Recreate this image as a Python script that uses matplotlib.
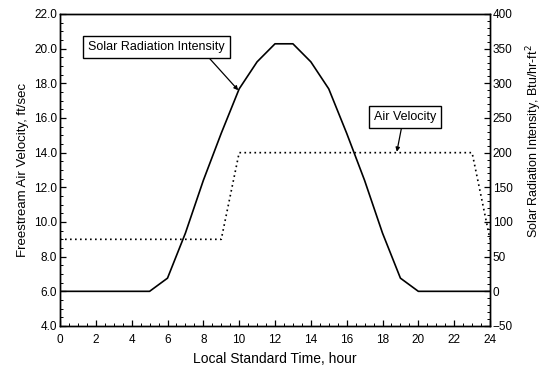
import numpy as np
import matplotlib
matplotlib.use('Agg')
import matplotlib.pyplot as plt
from matplotlib.ticker import MultipleLocator, FormatStrFormatter

plt.rcParams['font.family'] = ['Liberation Sans', 'DejaVu Sans']

# hourly values
hours = list(range(0, 25))
air_velocity = [9.0, 9.0, 9.0, 9.0, 9.0, 9.0, 9.0, 9.0, 9.0, 9.0,
                14.0, 14.0, 14.0, 14.0, 14.0, 14.0, 14.0, 14.0, 14.0, 14.0,
                14.0, 14.0, 14.0, 14.0, 9.0]
solar = [0, 0, 0, 0, 0, 0, 19, 84, 160, 228, 292, 331, 357, 357,
         331, 292, 228, 160, 84, 19, 0, 0, 0, 0, 0]

fig = plt.figure(figsize=(5.43, 3.71), dpi=100)
ax = fig.add_axes([0.1105, 0.1213, 0.7919, 0.841])
ax2 = ax.twinx()

ax.plot(hours, air_velocity, color='black', linestyle=(0, (1, 2)), lw=1.2)
ax2.plot(hours, solar, color='black', lw=1.2)

ax.set_xlim(0, 24)
ax.set_ylim(4, 22)
ax2.set_ylim(-50, 400)

ax.xaxis.set_major_locator(MultipleLocator(2))
ax.xaxis.set_minor_locator(MultipleLocator(0.5))
ax.yaxis.set_major_locator(MultipleLocator(2))
ax.yaxis.set_minor_locator(MultipleLocator(0.5))
ax.yaxis.set_major_formatter(FormatStrFormatter('%.1f'))
ax2.yaxis.set_major_locator(MultipleLocator(50))
ax2.yaxis.set_minor_locator(MultipleLocator(10))

for a in (ax, ax2):
    a.tick_params(which='major', direction='in', length=4, width=0.9, labelsize=8.5, pad=2)
    a.tick_params(which='minor', direction='in', length=2, width=0.7)
    for s in a.spines.values():
        s.set_linewidth(1.0)
ax.tick_params(axis='x', which='major', pad=6)

ax.set_xlabel('Local Standard Time, hour', fontsize=10, labelpad=4)
ax.set_ylabel('Freestream Air Velocity, ft/sec', fontsize=9.5, labelpad=4)
ax2.set_ylabel('Solar Radiation Intensity, Btu/hr-ft$^2$', fontsize=9)
ax2.yaxis.set_label_coords(1.081, 0.593)

box = dict(boxstyle='square,pad=0.4', fc='white', ec='black', lw=1.0)
arrow = dict(arrowstyle='-|>', color='black', lw=0.9, mutation_scale=6, shrinkA=0, shrinkB=0)

ax.annotate('Solar Radiation Intensity', xy=(9.95, 17.6), xytext=(5.4, 20.1),
            fontsize=9, ha='center', va='center', bbox=box,
            arrowprops=dict(arrow, relpos=(0.85, 0)))
ax.annotate('Air Velocity', xy=(18.8, 14.05), xytext=(19.25, 16.05),
            fontsize=9, ha='center', va='center', bbox=box,
            arrowprops=dict(arrow, relpos=(0.46, 0)))

fig.savefig('out.png', dpi=100)
